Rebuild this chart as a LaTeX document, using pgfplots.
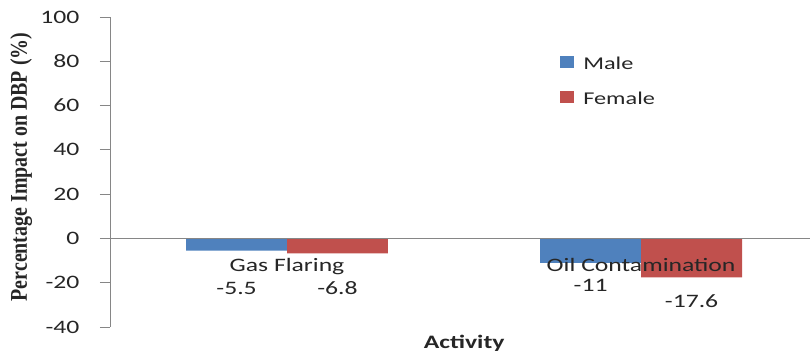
\documentclass[border=0pt]{standalone}
\usepackage{fontspec}
\usepackage{pgfplots}
\pgfplotsset{compat=1.18}
\newfontfamily\calf{Carlito}[FakeStretch=1.35]
\newfontfamily\tnr{Liberation Serif}[FakeStretch=0.83]
\definecolor{male}{HTML}{4F81BD}
\definecolor{female}{HTML}{C0504D}
\definecolor{axgray}{HTML}{868686}
\definecolor{txt}{HTML}{262626}
\begin{document}
\begin{tikzpicture}
\useasboundingbox (0,0) rectangle (811pt,358pt);
\begin{axis}[
  at={(110pt,31pt)}, anchor=south west,
  scale only axis, width=700pt, height=310pt,
  xmin=-0.5, xmax=1.477, ymin=-40, ymax=100,
  axis x line*=middle, axis y line*=left,
  axis line style={draw=axgray, line width=0.8pt},
  axis on top,
  xtick={0,1}, xticklabels={Gas Flaring, Oil Contamination},
  x tick style={draw=none},
  xticklabel style={anchor=base, yshift=-22.6pt, font=\calf\fontsize{19}{19}\selectfont, text=txt},
  ytick={-40,-20,0,20,40,60,80,100},
  yticklabels={-40,-20,0,20,40,60,80,100},
  y tick style={draw=axgray, line width=0.8pt},
  tick align=outside, major tick length=10pt,
  yticklabel style={font=\calf\fontsize{19}{19}\selectfont, text=txt, xshift=-17pt},
  xlabel={Activity},
  xlabel style={at={(rel axis cs:0.506,-0.068)}, anchor=base, font=\calf\bfseries\fontsize{19}{19}\selectfont, text=txt},
  ylabel={Percentage Impact on DBP (\%)},
  ylabel style={at={(rel axis cs:-0.127,0.516)}, anchor=center, font=\tnr\bfseries\fontsize{24}{24}\selectfont, text=txt},
  legend style={at={(0.643,0.8745)}, anchor=north west, draw=none, fill=none, inner sep=0pt,
    row sep=22pt, column sep=9pt,
    nodes={inner sep=0pt, text height=12pt, text depth=0pt, font=\calf\fontsize{18}{18}\selectfont, text=txt}},
  legend cell align=left,
  legend image code/.code={\fill[#1] (0pt,-5pt) rectangle (14pt,7pt);},
]
\addplot[ybar, bar width=0.285, bar shift=-0.1425, fill=male, draw=none] coordinates {(0,-5.5) (1,-11)};
\addlegendentry{Male}
\addplot[ybar, bar width=0.285, bar shift=0.1425, fill=female, draw=none] coordinates {(0,-6.8) (1,-17.6)};
\addlegendentry{Female}
\addplot[draw=none, mark=none, forget plot, nodes near coords, point meta=explicit symbolic,
  every node near coord/.append style={anchor=center, inner sep=0pt, font=\calf\fontsize{19}{19}\selectfont, text=txt}]
  coordinates {(-0.1425,-22.4) [-5.5] (0.1425,-22.4) [-6.8] (0.8575,-21.4) [-11] (1.1425,-28.4) [-17.6]};
\end{axis}
\end{tikzpicture}
\end{document}
